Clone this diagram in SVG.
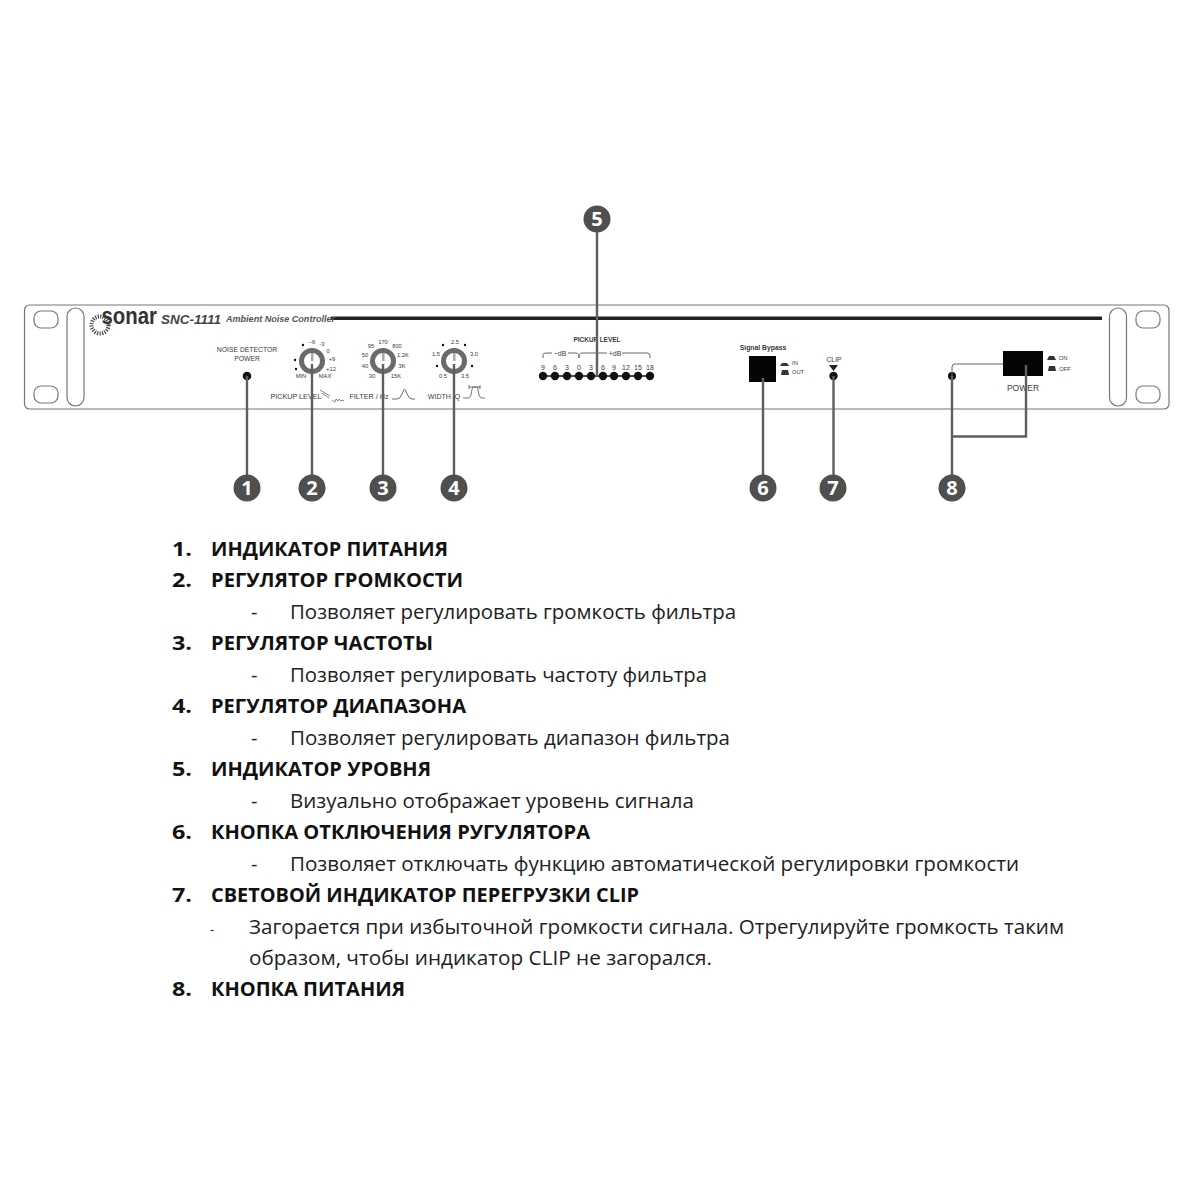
<svg xmlns="http://www.w3.org/2000/svg" width="1200" height="1200" viewBox="0 0 1200 1200">
<defs>
<style>
text{font-family:"Liberation Sans",Arial,sans-serif;fill:#3a3a3a}
.t{font-size:6.800px;text-anchor:middle}
.s{font-size:5.800px;text-anchor:middle}
.o{fill:none;stroke:#777;stroke-width:1.200}
.c{fill:none;stroke:#5f5f5f;stroke-width:2.400}
.thin{fill:none;stroke:#666;stroke-width:1}
.k{fill:#fff;stroke:#6a6a6a;stroke-width:5}
.led{fill:#111}
.n{fill:#4f4f4f}
.nt{font-size:20px;font-weight:bold;fill:#fff;text-anchor:middle;font-family:"Open Sans","Liberation Sans",sans-serif}
.h{font-family:"Open Sans","Liberation Sans",sans-serif;font-size:20px;font-weight:700;fill:#111}
.b{font-family:"Open Sans","Liberation Sans",sans-serif;font-size:20px;fill:#222}
</style>
</defs>
<rect width="1200" height="1200" fill="#fff"/>
<g id="panel">
<rect class="o" x="24.500" y="305" width="1144.500" height="104" rx="5"/>
<rect class="o" x="34" y="311" width="24" height="17" rx="7"/>
<rect class="o" x="34" y="386" width="24" height="17" rx="7"/>
<rect class="o" x="67" y="308" width="17" height="98" rx="8.500"/>
<rect class="o" x="1109.500" y="308" width="17" height="98" rx="8.500"/>
<rect class="o" x="1136" y="311" width="24" height="17" rx="7"/>
<rect class="o" x="1136" y="386" width="24" height="17" rx="7"/>
<rect x="331" y="316.500" width="771" height="3.500" fill="#222"/>
</g>
<g id="logo">
<circle cx="100" cy="325" r="8.500" fill="none" stroke="#444" stroke-width="4" stroke-dasharray="1.200 1.300"/>
<text transform="translate(101.500 323.500) scale(1 1.150)" font-size="20.400" font-weight="bold" style="fill:#333">sonar</text>
<text x="161" y="324" font-size="12" font-weight="bold" font-style="italic" textLength="60" lengthAdjust="spacingAndGlyphs" style="fill:#444">SNC-1111</text>
<text x="226" y="322" font-size="8.500" font-weight="bold" font-style="italic" textLength="109" lengthAdjust="spacingAndGlyphs" style="fill:#555">Ambient Noise Controller</text>
</g>
<g id="node-power-led">
<text class="t" x="247" y="352">NOISE DETECTOR</text>
<text class="t" x="247" y="361">POWER</text>
<circle class="led" cx="247" cy="376" r="4.300"/>
</g>
<g id="node-pickup">
<circle class="k" cx="312" cy="361" r="10.500"/>
<text class="s" x="312" y="344">−6</text><text class="s" x="322" y="346">-3</text><text class="s" x="328" y="353">0</text><text class="s" x="332" y="361">+9</text><text class="s" x="331" y="371">+12</text><text class="s" x="301" y="378">MIN</text><text class="s" x="325" y="378">MAX</text>
<circle class="led" cx="303" cy="345" r="1.200"/><circle class="led" cx="295" cy="360" r="1.200"/><circle class="led" cx="296" cy="369" r="1.200"/>
<rect x="311" y="353" width="2.500" height="8" fill="#aaa"/>
<text class="t" x="296" y="399" style="font-size:7.200px">PICKUP LEVEL</text>
<path class="thin" d="M320 390l10 6M322 393l7 5M332 400l3 2 1-3 2 2 1-2 2 2 1-1 2 1" style="stroke-width:.8"/>
</g>
<g id="node-filter">
<circle class="k" cx="383" cy="361" r="10.500"/>
<text class="s" x="383" y="344">170</text><text class="s" x="371" y="348">95</text><text class="s" x="365" y="357">50</text><text class="s" x="365" y="368">40</text><text class="s" x="372" y="378">30</text><text class="s" x="397" y="348">800</text><text class="s" x="403" y="357">1.2K</text><text class="s" x="402" y="368">3K</text><text class="s" x="396" y="378">15K</text>
<rect x="382" y="353" width="2.500" height="8" fill="#aaa"/>
<text class="t" x="369" y="399" style="font-size:7.200px">FILTER / Hz</text>
<path class="thin" d="M392 399h5q3 0 5-5t2.500-5 2.500 5 5 5h3"/>
</g>
<g id="node-width">
<circle class="k" cx="454" cy="361" r="10.500"/>
<text class="s" x="455" y="344">2.5</text><text class="s" x="436" y="356">1.5</text><text class="s" x="474" y="356">3.0</text><text class="s" x="443" y="378">0.5</text><text class="s" x="465" y="378">3.5</text>
<circle class="led" cx="443" cy="345" r="1.200"/><circle class="led" cx="465" cy="345" r="1.200"/><circle class="led" cx="437" cy="366" r="1.200"/><circle class="led" cx="472" cy="366" r="1.200"/>
<rect x="453" y="353" width="2.500" height="8" fill="#aaa"/>
<text class="t" x="444" y="399" style="font-size:7px">WIDTH /Q</text>
<path class="thin" d="M463 398h5q2 0 3-3l1.500-8h5l1.500 8q1 3 3 3h3M469 387h11M469 385v4M480 385v4" style="stroke-width:.9"/>
</g>
<g id="node-level">
<text class="t" x="597" y="342" style="font-weight:bold;font-size:6.500px">PICKUP LEVEL</text>
<path class="thin" d="M543 358v-3q0-2 3-2h6M568 353h8q3 0 3 5 0-5 3-5h25M622 353h25q3 0 3 3v2"/>
<text class="t" x="560" y="356" style="font-size:7px">−dB</text>
<text class="t" x="615" y="356" style="font-size:7px">+dB</text>
<g id="level-labels">
<text class="t" x="543" y="370" style="font-size:7px">9</text><text class="t" x="555" y="370" style="font-size:7px">6</text><text class="t" x="567" y="370" style="font-size:7px">3</text><text class="t" x="579" y="370" style="font-size:7px">0</text><text class="t" x="591" y="370" style="font-size:7px">3</text><text class="t" x="603" y="370" style="font-size:7px">6</text><text class="t" x="614" y="370" style="font-size:7px">9</text><text class="t" x="626" y="370" style="font-size:7px">12</text><text class="t" x="638" y="370" style="font-size:7px">15</text><text class="t" x="650" y="370" style="font-size:7px">18</text>
</g>
<path d="M543 376H650" stroke="#111" stroke-width="1.500"/>
<circle class="led" cx="543" cy="376" r="4.200"/><circle class="led" cx="555" cy="376" r="4.200"/><circle class="led" cx="567" cy="376" r="4.200"/><circle class="led" cx="579" cy="376" r="4.200"/><circle class="led" cx="591" cy="376" r="4.200"/><circle class="led" cx="603" cy="376" r="4.200"/><circle class="led" cx="614" cy="376" r="4.200"/><circle class="led" cx="626" cy="376" r="4.200"/><circle class="led" cx="638" cy="376" r="4.200"/><circle class="led" cx="650" cy="376" r="4.200"/>
</g>
<g id="node-bypass">
<text class="t" x="763" y="350" style="font-weight:bold">Signal Bypass</text>
<rect x="749" y="356" width="27" height="26" fill="#050505"/>
<path d="M780 366l2-3h5l2 3zM781 375l1-5h6l1 5z" fill="#333"/>
<text class="s" x="795" y="365">IN</text><text class="s" x="798" y="374">OUT</text>
</g>
<g id="node-clip">
<text class="t" x="834" y="362">CLIP</text>
<path d="M829 365h9l-4.500 6z" fill="#222"/>
<circle class="led" cx="833.500" cy="376" r="4.200"/>
</g>
<g id="node-power">
<rect x="1003" y="351" width="40" height="25" fill="#050505"/>
<path d="M1047 360l2-4h5l2 4zM1048 371l1-5h6l1 5z" fill="#333"/>
<text class="s" x="1063" y="360">ON</text><text class="s" x="1065" y="371">OFF</text>
<text class="t" x="1023" y="390.500" style="font-size:8.500px">POWER</text>
<circle class="led" cx="952" cy="376" r="4"/>
</g>
<g id="connectors">
<path class="thin" d="M952 376v-9q0-3 3-3h48"/>
<path class="c" d="M247 376V476M312 364V476M383 364V476M454 364V476M597 231V376M763 378V476M833.500 376V476M952 376V476M952 436.500H1026V365"/>
</g>
<g id="badges">
<circle class="n" cx="247" cy="488" r="13.500"/><text class="nt" x="247" y="495">1</text>
<circle class="n" cx="312" cy="488" r="13.500"/><text class="nt" x="312" y="495">2</text>
<circle class="n" cx="383" cy="488" r="13.500"/><text class="nt" x="383" y="495">3</text>
<circle class="n" cx="454" cy="488" r="13.500"/><text class="nt" x="454" y="495">4</text>
<circle class="n" cx="597" cy="219" r="13.500"/><text class="nt" x="597" y="226">5</text>
<circle class="n" cx="763" cy="488" r="13.500"/><text class="nt" x="763" y="495">6</text>
<circle class="n" cx="833" cy="488" r="13.500"/><text class="nt" x="833" y="495">7</text>
<circle class="n" cx="952" cy="488" r="13.500"/><text class="nt" x="952" y="495">8</text>
</g>
<g id="list">
<text class="h" x="172" y="555.500" textLength="20" lengthAdjust="spacingAndGlyphs">1.</text><text class="h" x="211" y="555.500" textLength="237" lengthAdjust="spacingAndGlyphs">ИНДИКАТОР ПИТАНИЯ</text>
<text class="h" x="172" y="586.500" textLength="20" lengthAdjust="spacingAndGlyphs">2.</text><text class="h" x="211" y="586.500" textLength="252" lengthAdjust="spacingAndGlyphs">РЕГУЛЯТОР ГРОМКОСТИ</text>
<text class="b" x="251" y="618.500">-</text><text class="b" x="290" y="618.500" textLength="446" lengthAdjust="spacingAndGlyphs">Позволяет регулировать громкость фильтра</text>
<text class="h" x="172" y="649.500" textLength="20" lengthAdjust="spacingAndGlyphs">3.</text><text class="h" x="211" y="649.500" textLength="222" lengthAdjust="spacingAndGlyphs">РЕГУЛЯТОР ЧАСТОТЫ</text>
<text class="b" x="251" y="681.500">-</text><text class="b" x="290" y="681.500" textLength="417" lengthAdjust="spacingAndGlyphs">Позволяет регулировать частоту фильтра</text>
<text class="h" x="172" y="712.500" textLength="20" lengthAdjust="spacingAndGlyphs">4.</text><text class="h" x="211" y="712.500" textLength="255" lengthAdjust="spacingAndGlyphs">РЕГУЛЯТОР ДИАПАЗОНА</text>
<text class="b" x="251" y="744.500">-</text><text class="b" x="290" y="744.500" textLength="440" lengthAdjust="spacingAndGlyphs">Позволяет регулировать диапазон фильтра</text>
<text class="h" x="172" y="775.500" textLength="20" lengthAdjust="spacingAndGlyphs">5.</text><text class="h" x="211" y="775.500" textLength="220" lengthAdjust="spacingAndGlyphs">ИНДИКАТОР УРОВНЯ</text>
<text class="b" x="251" y="807.500">-</text><text class="b" x="290" y="807.500" textLength="404" lengthAdjust="spacingAndGlyphs">Визуально отображает уровень сигнала</text>
<text class="h" x="172" y="838.500" textLength="20" lengthAdjust="spacingAndGlyphs">6.</text><text class="h" x="211" y="838.500" textLength="379" lengthAdjust="spacingAndGlyphs">КНОПКА ОТКЛЮЧЕНИЯ РУГУЛЯТОРА</text>
<text class="b" x="251" y="870.500">-</text><text class="b" x="290" y="870.500" textLength="729" lengthAdjust="spacingAndGlyphs">Позволяет отключать функцию автоматической регулировки громкости</text>
<text class="h" x="172" y="901.500" textLength="20" lengthAdjust="spacingAndGlyphs">7.</text><text class="h" x="211" y="901.500" textLength="428" lengthAdjust="spacingAndGlyphs">СВЕТОВОЙ ИНДИКАТОР ПЕРЕГРУЗКИ CLIP</text>
<text class="b" x="210" y="933.500" style="font-size:13px">-</text><text class="b" x="249" y="933.500" textLength="815" lengthAdjust="spacingAndGlyphs">Загорается при избыточной громкости сигнала. Отрегулируйте громкость таким</text>
<text class="b" x="249" y="964.500" textLength="463" lengthAdjust="spacingAndGlyphs">образом, чтобы индикатор CLIP не загорался.</text>
<text class="h" x="172" y="995.500" textLength="20" lengthAdjust="spacingAndGlyphs">8.</text><text class="h" x="211" y="995.500" textLength="194" lengthAdjust="spacingAndGlyphs">КНОПКА ПИТАНИЯ</text>
</g>
</svg>
